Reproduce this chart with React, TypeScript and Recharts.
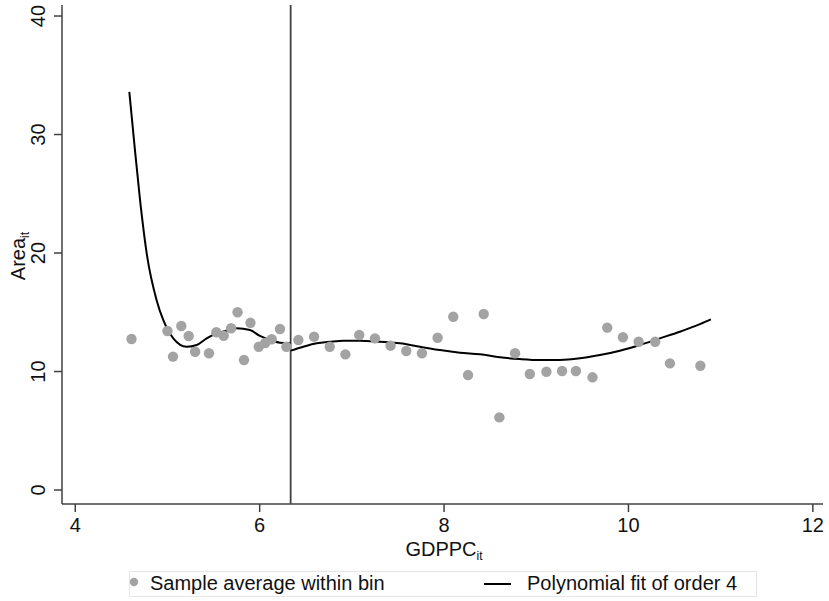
import { ComposedChart, Scatter, Line, XAxis, YAxis, ReferenceLine } from "recharts";

// bin averages
const binX = [
  4.61, 5.0, 5.06, 5.15, 5.23, 5.3, 5.45, 5.53, 5.61, 5.69, 5.76, 5.83, 5.9, 5.99, 6.06,
  6.13, 6.22, 6.29, 6.42, 6.59, 6.76, 6.93, 7.08, 7.25, 7.42, 7.59, 7.76, 7.93, 8.1,
  8.26, 8.43, 8.6, 8.77, 8.93, 9.11, 9.28, 9.43, 9.61, 9.77, 9.94, 10.11, 10.29, 10.45,
  10.78,
];
const binY = [
  12.74, 13.42, 11.26, 13.84, 13.0, 11.67, 11.54, 13.31, 13.02, 13.65, 15.0, 10.97, 14.11,
  12.09, 12.41, 12.72, 13.59, 12.09, 12.66, 12.94, 12.09, 11.45, 13.08, 12.8, 12.18, 11.73,
  11.54, 12.85, 14.62, 9.7, 14.85, 6.13, 11.54, 9.79, 9.98, 10.04, 10.04, 9.51, 13.7, 12.89,
  12.51, 12.51, 10.69, 10.49,
];

// fitted curve, left of the cutoff
const fitLeftX = [
  4.586, 4.637, 4.702, 4.778, 4.883, 4.954, 5.063, 5.208, 5.317, 5.425, 5.534, 5.642, 5.75,
  5.895, 6.003, 6.111, 6.22, 6.336,
];
const fitLeftY = [
  33.6, 29.5, 24.5, 19.8, 16.0, 14.35, 12.8, 12.09, 12.24, 12.8, 13.22, 13.44, 13.65, 13.5,
  13.0, 12.66, 12.43, 12.38,
];

// fitted curve, right of the cutoff
const fitRightX = [
  6.336, 6.473, 6.618, 6.762, 6.907, 7.088, 7.305, 7.522, 7.739, 7.956, 8.173, 8.39, 8.606,
  8.823, 9.04, 9.257, 9.474, 9.69, 9.907, 10.124, 10.341, 10.558, 10.775, 10.894,
];
const fitRightY = [
  11.76, 12.09, 12.38, 12.51, 12.6, 12.6, 12.51, 12.38, 12.09, 11.81, 11.59, 11.45, 11.2,
  11.05, 10.97, 10.97, 11.11, 11.39, 11.76, 12.24, 12.8, 13.36, 14.0, 14.4,
];

const cutoff = 6.336;
const xTicks = [4, 6, 8, 10, 12];
const yTicks = [0, 10, 20, 30, 40];

const bins = binX.map((x, i) => ({ x, y: binY[i] }));
const fitLeft = fitLeftX.map((x, i) => ({ x, y: fitLeftY[i] }));
const fitRight = fitRightX.map((x, i) => ({ x, y: fitRightY[i] }));

const font = "'Liberation Sans', Arial, Helvetica, sans-serif";
const axisColor = "#404040";
const dotColor = "#a3a3a3";

const XTick = ({ x, y, payload }: any) => (
  <text x={x} y={y + 18} textAnchor="middle" fontSize={20} fontFamily={font} fill="#111">
    {payload.value}
  </text>
);

const YTick = ({ x, y, payload }: any) => (
  <text
    x={x - 7}
    y={y}
    transform={`rotate(-90, ${x - 7}, ${y})`}
    textAnchor="middle"
    fontSize={20}
    fontFamily={font}
    fill="#111"
  >
    {payload.value}
  </text>
);

const Dot = (props: any) => <circle cx={props.cx} cy={props.cy} r={5.2} fill={dotColor} />;

export default function App() {
  return (
    <div style={{ position: "absolute", left: 0, top: 0, width: 829, height: 601, background: "#fff" }}>
      <ComposedChart width={829} height={601} margin={{ top: 5, right: 6, bottom: 47, left: 0 }}>
        <XAxis
          type="number"
          dataKey="x"
          domain={[3.856, 12.11]}
          ticks={xTicks}
          allowDataOverflow
          height={50}
          tickSize={8}
          tick={XTick}
          stroke={axisColor}
          strokeWidth={1.5}
        />
        <YAxis
          type="number"
          dataKey="y"
          domain={[-1.18, 40.93]}
          ticks={yTicks}
          allowDataOverflow
          width={62}
          tickSize={8}
          tick={YTick}
          stroke={axisColor}
          strokeWidth={1.5}
        />
        <Scatter data={bins} dataKey="y" shape={Dot} isAnimationActive={false} />
        <ReferenceLine x={cutoff} stroke={axisColor} strokeWidth={1.8} />
        <Line
          data={fitLeft}
          dataKey="y"
          type="monotone"
          stroke="#000"
          strokeWidth={2}
          dot={false}
          isAnimationActive={false}
        />
        <Line
          data={fitRight}
          dataKey="y"
          type="monotone"
          stroke="#000"
          strokeWidth={2}
          dot={false}
          isAnimationActive={false}
        />
      </ComposedChart>
      <svg
        width={829}
        height={601}
        style={{ position: "absolute", left: 0, top: 0, pointerEvents: "none" }}
        fontFamily={font}
        fill="#111"
      >
        {/* axis titles */}
        <text x={444} y={556} textAnchor="middle" fontSize={20}>
          GDPPC
          <tspan fontSize={12} dy={4}>it</tspan>
        </text>
        <text x={25} y={256} transform="rotate(-90, 25, 256)" textAnchor="middle" fontSize={20}>
          Area
          <tspan fontSize={12} dy={4}>it</tspan>
        </text>
        {/* legend */}
        <rect x={129.5} y={571.5} width={627} height={25} fill="#fff" stroke="#e6e6e6" />
        <circle cx={134} cy={582} r={4.2} fill={dotColor} />
        <text x={150} y={590} fontSize={20}>Sample average within bin</text>
        <line x1={484} x2={511} y1={584} y2={584} stroke="#000" strokeWidth={2} />
        <text x={527} y={590} fontSize={20}>Polynomial fit of order 4</text>
      </svg>
    </div>
  );
}
